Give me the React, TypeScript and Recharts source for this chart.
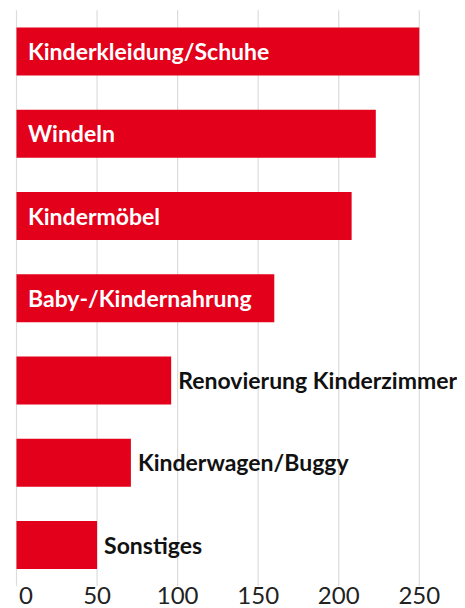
import { Bar, BarChart, CartesianGrid, LabelList, XAxis, YAxis } from 'recharts';

const categories = [
  'Kinderkleidung/Schuhe',
  'Windeln',
  'Kindermöbel',
  'Baby-/Kindernahrung',
  'Renovierung Kinderzimmer',
  'Kinderwagen/Buggy',
  'Sonstiges',
];
const values = [250, 223, 208, 160, 96, 71, 50];
const xTicks = [0, 50, 100, 150, 200, 250];

const data = categories.map((name, i) => ({ name, value: values[i] }));

const RED = '#e2001a';
const FONT = 'Lato, sans-serif';

const BarLabel = (props: any) => {
  const { x, y, width, height, value, index } = props;
  const inside = values[index] > 100;
  return (
    <text
      x={inside ? x + 11.5 : x + width + 7}
      y={y + height / 2 + 8.5}
      fill={inside ? '#fff' : '#111'}
      fontFamily={FONT}
      fontSize={23}
      fontWeight={700}
    >
      {value}
    </text>
  );
};

const Tick = (props: any) => {
  const { x, y, payload } = props;
  const first = payload.value === 0;
  return (
    <text
      x={first ? x + 2.5 : x}
      y={y + 10}
      textAnchor={first ? 'start' : 'middle'}
      fill="#222"
      fontFamily={FONT}
      fontSize={24}
    >
      {payload.value}
    </text>
  );
};

export default function App() {
  return (
    <BarChart
      width={457}
      height={600}
      data={data}
      layout="vertical"
      margin={{ top: 2.3, right: 45.7, left: 8.5, bottom: 0 }}
      barCategoryGap="21%"
    >
      <CartesianGrid horizontal={false} stroke="#dcdcdc" strokeWidth={1.2} />
      <XAxis
        type="number"
        domain={[0, 250]}
        ticks={xTicks}
        axisLine={false}
        tickLine={false}
        height={22}
        tick={<Tick />}
        interval={0}
      />
      <YAxis type="category" dataKey="name" hide />
      <Bar dataKey="value" fill={RED} isAnimationActive={false}>
        <LabelList dataKey="name" content={<BarLabel />} />
      </Bar>
    </BarChart>
  );
}
